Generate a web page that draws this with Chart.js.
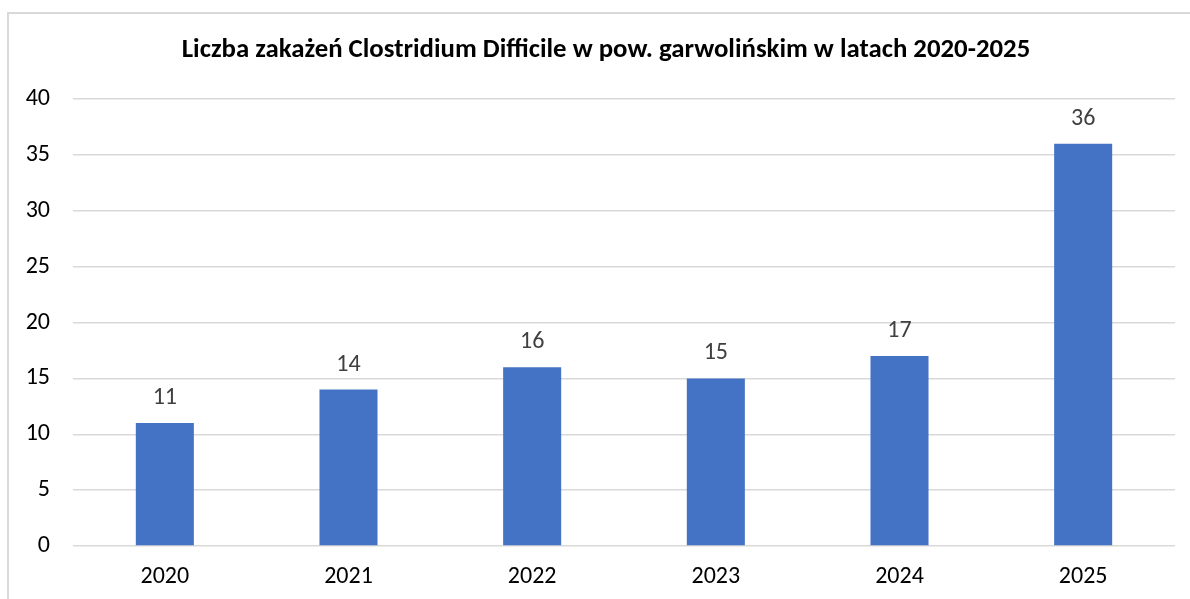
<!DOCTYPE html>
<html>
<head>
<meta charset="utf-8">
<script src="https://cdn.jsdelivr.net/npm/chart.js@4"></script>
<style>
  html, body { margin: 0; padding: 0; background: #fff; }
  #wrap { width: 1190px; height: 599px; position: relative; }
</style>
</head>
<body>
<div id="wrap"><canvas id="barChart"></canvas></div>
<script>
// dane
const years = ['2020', '2021', '2022', '2023', '2024', '2025'];
const cases = [11, 14, 16, 15, 17, 36];
const yTicks = [0, 5, 10, 15, 20, 25, 30, 35, 40];
const titleText = 'Liczba zakażeń Clostridium Difficile w pow. garwolińskim w latach 2020-2025';

const FONT = "'Carlito', 'Liberation Sans', sans-serif";

// ramka wokół wykresu + tytuł (wyśrodkowany na ramce, nie na obszarze wykresu)
const frame = {
    id: 'frame',
    beforeDraw(chart) {
        const ctx = chart.ctx;
        ctx.save();
        ctx.strokeStyle = '#d9d9d9';
        ctx.lineWidth = 2;
        ctx.strokeRect(8, 13, 1200, 620);
        ctx.fillStyle = '#000';
        ctx.font = 'bold 26.8px ' + FONT;
        ctx.textAlign = 'center';
        ctx.textBaseline = 'middle';
        ctx.fillText(titleText, 606, 50);
        ctx.restore();
    }
};

// etykiety wartości nad słupkami
const valueLabels = {
    id: 'valueLabels',
    afterDatasetsDraw(chart) {
        const ctx = chart.ctx;
        const meta = chart.getDatasetMeta(0);
        ctx.save();
        ctx.fillStyle = '#404040';
        ctx.font = '24px ' + FONT;
        ctx.textAlign = 'center';
        ctx.textBaseline = 'middle';
        meta.data.forEach((bar, i) => {
            ctx.fillText(String(cases[i]), bar.x, bar.y - 25);
        });
        ctx.restore();
    }
};

const ctx = document.getElementById('barChart').getContext('2d');
new Chart(ctx, {
    type: 'bar',
    data: {
        labels: years,
        datasets: [{
            data: cases,
            backgroundColor: '#4472c4',
            borderWidth: 0,
            barPercentage: 0.316,
            categoryPercentage: 1
        }]
    },
    options: {
        responsive: true,
        maintainAspectRatio: false,
        animation: false,
        layout: {
            padding: { left: 0, right: 15, top: 99, bottom: 0 }
        },
        scales: {
            x: {
                afterFit(scale) { scale.height = 53; },
                grid: { display: false, drawTicks: false },
                border: { display: false },
                ticks: {
                    color: '#000',
                    font: { family: FONT, size: 24 },
                    padding: 17
                }
            },
            y: {
                min: 0,
                max: 40,
                afterFit(scale) { scale.width = 73; },
                afterBuildTicks(scale) {
                    scale.ticks = yTicks.map(v => ({ value: v }));
                },
                grid: { color: '#d9d9d9', lineWidth: 1.5, drawTicks: false },
                border: { display: false },
                ticks: {
                    color: '#000',
                    font: { family: FONT, size: 24 },
                    padding: 23
                }
            }
        },
        plugins: {
            legend: { display: false },
            tooltip: { enabled: false },
            title: { display: false }
        }
    },
    plugins: [frame, valueLabels]
});
</script>
</body>
</html>
